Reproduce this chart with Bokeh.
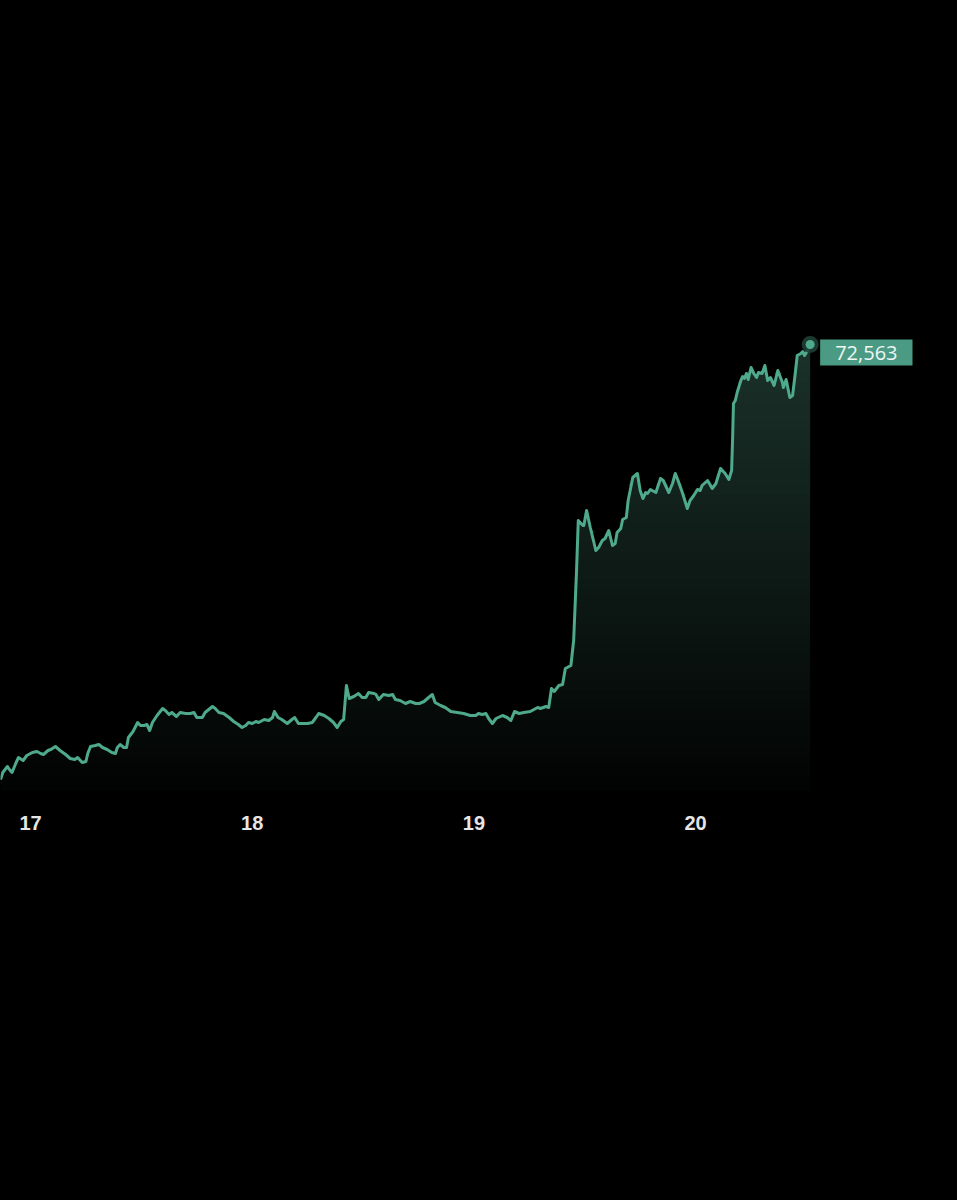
from bokeh.plotting import figure
from bokeh.models import Range1d, FixedTicker, Label
from bokeh.embed import file_html
from bokeh.resources import INLINE
import numpy as np

# hours since the 17th 00:00
hours = [-3.2, -3.0, -2.5, -2.2, -2.0, -1.6, -1.3, -0.8, -0.4, 0.2, 0.7, 1.1, 1.4, 1.9, 2.2, 2.7, 3.2, 3.8, 4.3, 4.8,
         5.1, 5.6, 6.0, 6.2, 6.5, 7.0, 7.4, 7.8, 8.3, 8.8, 9.2, 9.4, 9.7, 10.1, 10.4, 10.6, 11.1, 11.6, 11.9, 12.3,
         12.6, 12.9, 13.2, 13.7, 14.3, 14.6, 15.0, 15.3, 15.8, 16.2, 16.8, 17.3, 17.7, 18.0, 18.6, 18.9, 19.7, 20.0, 20.4, 20.9,
         21.5, 22.0, 22.5, 22.9, 23.3, 23.6, 24.0, 24.4, 24.7, 25.3, 25.8, 26.2, 26.4, 26.8, 27.2, 27.8, 28.3, 28.6, 29.0, 29.3,
         30.0, 30.5, 30.9, 31.2, 31.8, 32.3, 32.8, 33.2, 33.6, 33.9, 34.2, 34.5, 35.0, 35.5, 35.9, 36.3, 36.6, 37.2, 37.4, 37.7,
         38.2, 38.8, 39.2, 39.5, 40.0, 40.6, 41.1, 41.7, 42.1, 42.6, 43.1, 43.5, 43.8, 44.4, 44.9, 45.5, 46.2, 46.9, 47.6, 48.2,
         48.5, 48.9, 49.3, 49.6, 50.0, 50.4, 51.1, 51.6, 52.0, 52.4, 52.9, 53.4, 54.1, 54.9, 55.2, 55.8, 56.1, 56.4, 56.7, 57.2,
         57.6, 57.9, 58.5, 58.8, 59.1, 59.3, 59.8, 59.9, 60.2, 60.6, 61.2, 61.5, 61.9, 62.2, 62.6, 63.0, 63.3,
         63.5, 63.9, 64.1, 64.5, 64.7, 65.2, 65.7, 66.0, 66.3, 66.6, 66.8, 67.1, 67.7, 68.2, 68.5, 69.1, 69.5, 69.8, 70.1, 70.6,
         71.1, 71.4, 71.8, 72.2, 72.5, 72.7, 73.3, 73.8, 74.2, 74.7, 75.2, 75.6, 75.9, 76.0,
         76.1, 76.3, 76.5, 76.9, 77.1, 77.3, 77.5, 77.7, 78.0, 78.3, 78.6, 78.8, 79.2, 79.5, 79.8, 80.1, 80.5, 80.9, 81.4, 81.5,
         81.8, 82.2, 82.5, 82.8, 83.0, 83.4, 83.6, 83.8, 84.0, 84.2, 84.4]

price = [63883, 64003, 64123, 64043, 64003, 64183, 64303, 64243, 64343, 64403, 64423, 64383, 64363, 64443, 64463, 64523, 64443, 64363, 64283, 64263,
         64303, 64203, 64223, 64383, 64523, 64543, 64563, 64503, 64463, 64403, 64383, 64503, 64563, 64503, 64503, 64703, 64823, 65003, 64943, 64943,
         64963, 64843, 65003, 65143, 65283, 65243, 65163, 65203, 65123, 65203, 65183, 65183, 65203, 65103, 65103, 65203, 65323, 65283, 65203, 65183,
         65103, 65023, 64963, 64903, 64943, 65003, 64983, 65023, 65003, 65063, 65043, 65103, 65223, 65103, 65063, 64983, 65063, 65103, 64983, 64983,
         64983, 65003, 65103, 65183, 65143, 65083, 65003, 64903, 65023, 65063, 65743, 65483, 65523, 65583, 65503, 65503, 65603, 65583, 65563, 65463,
         65563, 65543, 65563, 65463, 65443, 65383, 65423, 65383, 65383, 65423, 65503, 65563, 65403, 65343, 65303, 65223, 65203, 65183, 65143, 65143,
         65183, 65163, 65183, 65083, 64983, 65083, 65143, 65103, 65043, 65223, 65183, 65203, 65223, 65303, 65283, 65323, 65303, 65683, 65623, 65743,
         65763, 66083, 66143, 66643, 67983, 69043, 68943, 68943, 69243, 68903, 68443, 68503, 68643, 68683, 68843, 68543, 68583,
         68803, 68883, 69063, 69103, 69443, 69903, 69983, 69643, 69483, 69603, 69583, 69663, 69603, 69883, 69843, 69603, 69783, 69983, 69843, 69583,
         69283, 69443, 69543, 69663, 69643, 69743, 69843, 69683, 69783, 70083, 69983, 69863, 70043, 70643,
         71383, 71443, 71603, 71843, 71923, 71883, 71983, 71863, 72103, 71983, 71903, 72003, 71983, 72143, 71843, 71903, 71743, 72043, 71803, 71703,
         71863, 71503, 71543, 72003, 72343, 72383, 72423, 72343, 72403, 72483, 72563]

tick_hours = [0, 24, 48, 72]
tick_labels = ["17", "18", "19", "20"]

LINE = "#4fa98c"

p = figure(width=941, height=1184, output_backend="svg", toolbar_location=None,
           x_range=Range1d(-3.2475, 98.62), y_range=Range1d(63443, 79443),
           y_axis_location=None, min_border_left=0, min_border_right=0,
           min_border_top=0, min_border_bottom=384)
p.background_fill_color = "#000000"
p.border_fill_color = "#000000"
p.outline_line_color = None
p.grid.visible = False

# vertical gradient fill under the line, built from horizontal bands
hx = np.array(hours, dtype=float)
py = np.array(price, dtype=float)
bottom, top = 63643.0, 72600.0
n = 48
edges = np.linspace(bottom, top, n + 1)
top_rgb = np.array([27, 50, 42])
bot_rgb = np.array([2, 3, 3])
ov = (top - bottom) / n * 0.35
for k in range(n):
    lo, hi = edges[k], edges[k + 1]
    t = (k + 0.5) / n
    rgb = (bot_rgb + (top_rgb - bot_rgb) * t).astype(int)
    col = "#%02x%02x%02x" % tuple(rgb)
    lo2 = lo - ov if k > 0 else lo
    y2 = np.clip(py, lo2, hi)
    p.varea(x=hx, y1=np.full_like(hx, lo2), y2=y2, fill_color=col, fill_alpha=1.0)

p.line(hours, price, line_color=LINE, line_width=3, line_join="round", line_cap="round")

# end marker
p.scatter([hours[-1]], [price[-1]], size=17, fill_color="#1f3f35", line_color=None, fill_alpha=0.9)
p.scatter([hours[-1]], [price[-1]], size=9, fill_color=LINE, line_color=None)

lab = Label(x=hours[-1], y=price[-1], x_offset=10, y_offset=-8,
            text="{:,}".format(price[-1]), text_color="#eef7f3", text_font="Open Sans",
            text_font_size="20px", text_align="left", text_baseline="middle",
            background_fill_color="#4a9a84", background_fill_alpha=1.0, padding=(15, 6))
p.add_layout(lab)

ax = p.xaxis[0]
ax.ticker = FixedTicker(ticks=tick_hours)
ax.major_label_overrides = {h: l for h, l in zip(tick_hours, tick_labels)}
ax.axis_line_color = None
ax.major_tick_line_color = None
ax.minor_tick_line_color = None
ax.major_label_standoff = 9
ax.major_label_text_color = "#e6e6e6"
ax.major_label_text_font = "Liberation Sans"
ax.major_label_text_font_style = "bold"
ax.major_label_text_font_size = "20px"

html = file_html(p, INLINE)
html = html.replace("<head>", "<head><style>html,body{background:#000000;}</style>", 1)
open("out.html", "w").write(html)
